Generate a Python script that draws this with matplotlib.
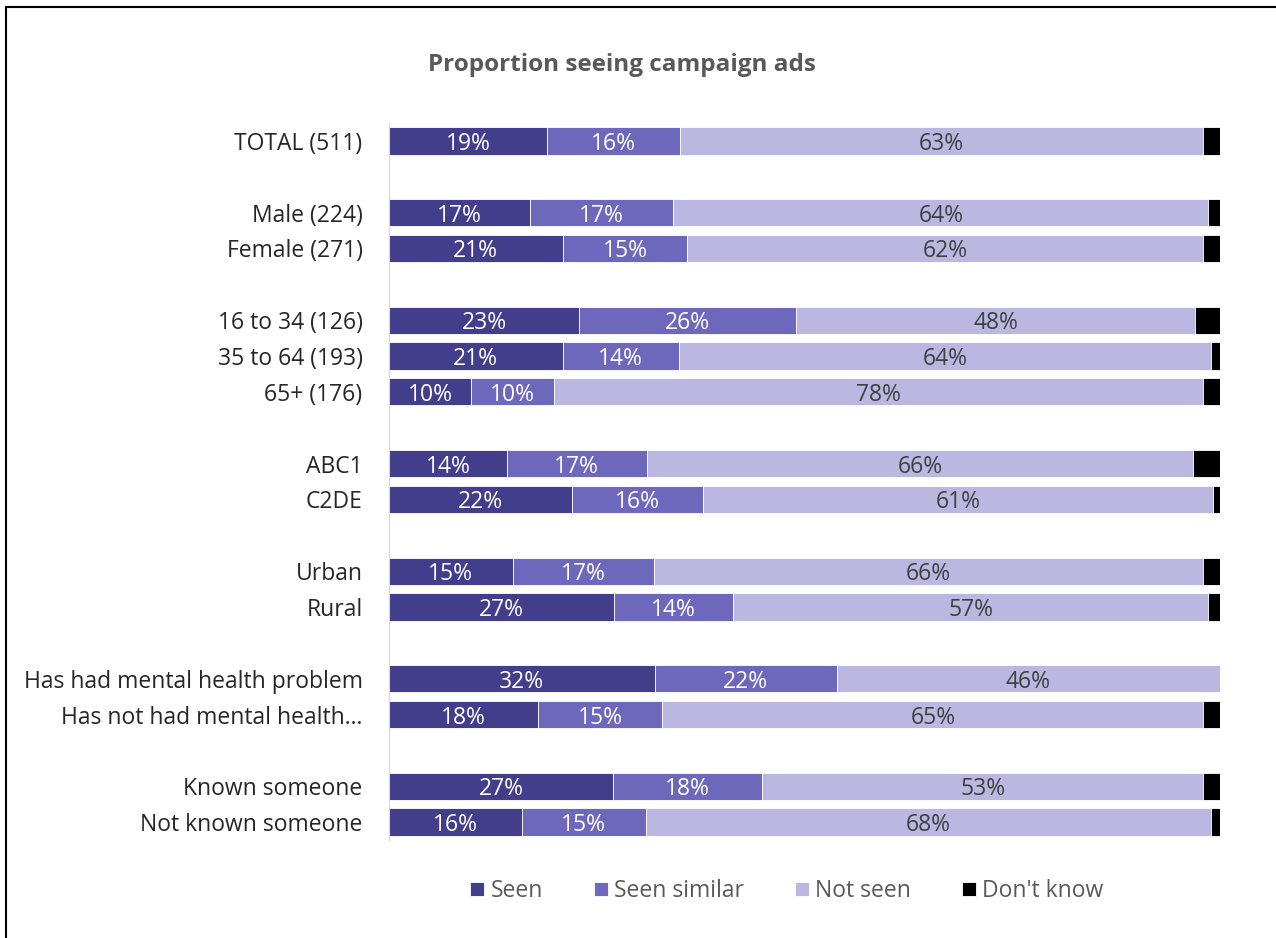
import numpy as np
import matplotlib.pyplot as plt
from matplotlib.patches import Rectangle

plt.rcParams['font.family'] = ['Open Sans', 'DejaVu Sans']

# Row labels; empty strings are spacer rows between groups
categories = ["TOTAL (511)", "",
              "Male (224)", "Female (271)", "",
              "16 to 34 (126)", "35 to 64 (193)", "65+ (176)", "",
              "ABC1", "C2DE", "",
              "Urban", "Rural", "",
              "Has had mental health problem", "Has not had mental health\u2026", "",
              "Known someone", "Not known someone"]

seen =         [19.0, None, 17.0, 20.9, None, 22.9, 20.9, 9.9, None, 14.2, 22.0, None, 14.9, 27.1, None, 32.0, 17.9, None, 27.0, 16.0]
seen_similar = [16.0, None, 17.2, 15.0, None, 26.1, 14.0, 10.0, None, 16.8, 15.8, None, 17.0, 14.3, None, 21.9, 15.0, None, 17.9, 14.9]
not_seen =     [63.0, None, 64.4, 62.1, None, 48.0, 64.0, 78.1, None, 65.8, 61.4, None, 66.1, 57.2, None, 46.1, 65.1, None, 53.1, 68.0]
dont_know =    [2.0, None, 1.4, 2.0, None, 3.0, 1.1, 2.0, None, 3.2, 0.8, None, 2.0, 1.4, None, 0.0, 2.0, None, 2.0, 1.1]

series = ["Seen", "Seen similar", "Not seen", "Don't know"]
colors = ["#433E8C", "#6E68BC", "#BAB8E0", "#000000"]
text_colors = ["white", "white", "#404040", None]

fig = plt.figure(figsize=(12.76, 9.38), dpi=100)
ax = fig.add_axes([389 / 1276, 1 - 840 / 938, 831 / 1276, 717 / 938])

y = np.arange(len(categories))
rows = [i for i, c in enumerate(categories) if c]
left = np.zeros(len(categories))
for vals, name, col, tcol in zip([seen, seen_similar, not_seen, dont_know], series, colors, text_colors):
    v = np.array([x if x is not None else 0 for x in vals], dtype=float)
    ax.barh(y[rows], v[rows], left=left[rows], height=0.76, color=col,
            edgecolor="white", linewidth=0.6, label=name)
    if tcol:
        for i in rows:
            ax.text(left[i] + v[i] / 2, i, f"{v[i]:.0f}%", ha="center", va="center_baseline",
                    color=tcol, fontsize=16.5)
    left += v

ax.set_xlim(0, 100)
ax.set_ylim(len(categories) - 0.5, -0.5)
ax.set_yticks(y)
ax.set_yticklabels(categories, fontsize=16.5, color="#262626")
ax.tick_params(axis="y", length=0, pad=19)
ax.set_xticks([])
for s in ["top", "right", "bottom"]:
    ax.spines[s].set_visible(False)
ax.spines["left"].set_color("#D9D9D9")

fig.text(622 / 1276, 1 - 65 / 938, "Proportion seeing campaign ads", ha="center", va="center",
         fontsize=17.5, fontweight="bold", color="#595959")

fig.legend(loc="center", bbox_to_anchor=(787 / 1276, 1 - 891 / 938), ncol=4, frameon=False,
           fontsize=16.5, labelcolor="#595959", handlelength=0.6, handleheight=0.6,
           handletextpad=0.3, columnspacing=2.2)

# outer border along the left and top edges
fig.patches.append(Rectangle((6 / 1276, -0.1), 1.2, 1 - 7 / 938 + 0.1, transform=fig.transFigure,
                             fill=False, edgecolor="black", linewidth=1.5))

fig.savefig("out.png", dpi=100)
